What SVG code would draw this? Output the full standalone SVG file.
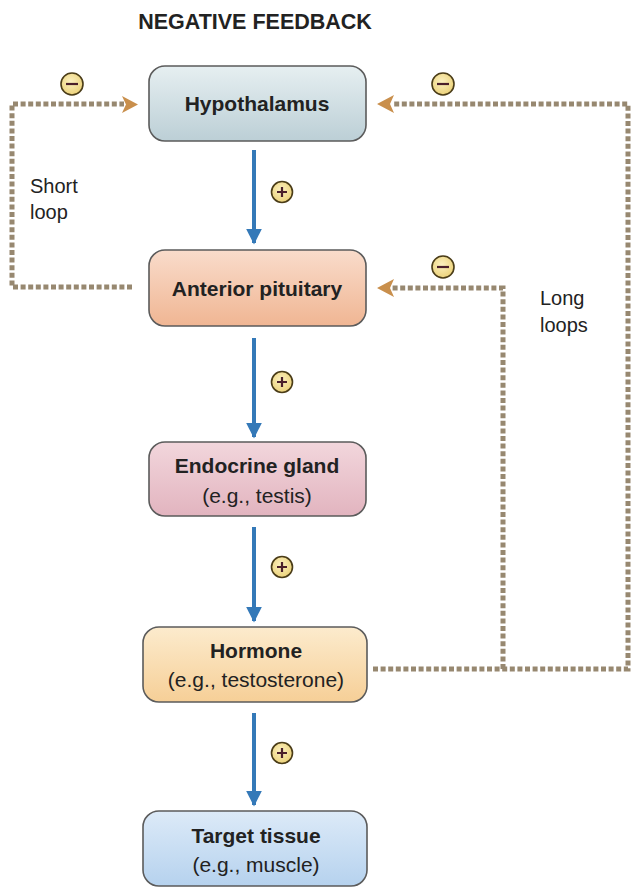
<svg xmlns="http://www.w3.org/2000/svg" width="634" height="892" viewBox="0 0 634 892">
<defs>
<linearGradient id="gHyp" x1="0" y1="0" x2="0" y2="1"><stop offset="0" stop-color="#e6eff1"/><stop offset="1" stop-color="#bccfd6"/></linearGradient>
<linearGradient id="gAnt" x1="0" y1="0" x2="0" y2="1"><stop offset="0" stop-color="#f9dccb"/><stop offset="1" stop-color="#f0b693"/></linearGradient>
<linearGradient id="gEnd" x1="0" y1="0" x2="0" y2="1"><stop offset="0" stop-color="#f2d6dc"/><stop offset="1" stop-color="#e2b4bf"/></linearGradient>
<linearGradient id="gHor" x1="0" y1="0" x2="0" y2="1"><stop offset="0" stop-color="#fcebcd"/><stop offset="1" stop-color="#f6cf97"/></linearGradient>
<linearGradient id="gTar" x1="0" y1="0" x2="0" y2="1"><stop offset="0" stop-color="#dceaf8"/><stop offset="1" stop-color="#b6d2ee"/></linearGradient>
<radialGradient id="gSign" cx="0.45" cy="0.4" r="0.6"><stop offset="0" stop-color="#fbf0c0"/><stop offset="1" stop-color="#ecd27a"/></radialGradient>
<marker id="blueHead" viewBox="0 0 10 10" refX="9" refY="5" markerWidth="4" markerHeight="4" orient="auto" markerUnits="strokeWidth"><path d="M0,0 L10,5 L0,10 z" fill="#3479b8"/></marker>
</defs>
<style>
.box{stroke:#5b5b5b;stroke-width:1.6}
.bold{font-family:"Liberation Sans",Arial,sans-serif;font-weight:bold;font-size:21px;fill:#222;text-anchor:middle}
.reg{font-family:"Liberation Sans",Arial,sans-serif;font-size:21px;fill:#222;text-anchor:middle}
.lbl{font-family:"Liberation Sans",Arial,sans-serif;font-size:20px;fill:#222}
.blue{stroke:#3479b8;stroke-width:4;fill:none;marker-end:url(#blueHead)}
.dot{stroke:#978870;stroke-width:5;fill:none;stroke-dasharray:5 2.6}
.sign{fill:url(#gSign);stroke:#4a3c18;stroke-width:1.6}
.mark{stroke:#4a1f2a;stroke-width:2.2;fill:none}
.head{fill:#c98f4c}
</style>
<text x="255" y="29" font-family="'Liberation Sans',Arial,sans-serif" font-weight="bold" font-size="21.5" fill="#222" text-anchor="middle">NEGATIVE FEEDBACK</text>

<g id="connectors">
<line class="blue" x1="254" y1="150" x2="254" y2="243"/>
<line class="blue" x1="254" y1="338" x2="254" y2="437"/>
<line class="blue" x1="254" y1="527" x2="254" y2="621"/>
<line class="blue" x1="254" y1="713" x2="254" y2="805"/>
<polyline class="dot" points="132,287 12,287 12,104 124,104"/>
<polyline class="dot" points="373,669 628,669 628,104 392,104"/>
<polyline class="dot" points="503,669 503,288 392,288"/>
<path class="head" d="M122,96 L138,104.5 L122,113 L126,104.5 z"/>
<path class="head" d="M394,95 L377,104 L394,113 L390,104 z"/>
<path class="head" d="M394,279 L377,288 L394,297 L390,288 z"/>
</g>

<g id="signs">
<g id="minus1"><circle class="sign" cx="72" cy="84" r="11"/><line class="mark" x1="66" y1="84" x2="78" y2="84"/></g>
<g id="minus2"><circle class="sign" cx="443" cy="84" r="11"/><line class="mark" x1="437" y1="84" x2="449" y2="84"/></g>
<g id="minus3"><circle class="sign" cx="443" cy="267" r="11"/><line class="mark" x1="437" y1="267" x2="449" y2="267"/></g>
<g id="plus1"><circle class="sign" cx="282" cy="192" r="10.5"/><path class="mark" d="M277,192 H287 M282,187 V197"/></g>
<g id="plus2"><circle class="sign" cx="282" cy="382" r="10.5"/><path class="mark" d="M277,382 H287 M282,377 V387"/></g>
<g id="plus3"><circle class="sign" cx="282" cy="567" r="10.5"/><path class="mark" d="M277,567 H287 M282,562 V572"/></g>
<g id="plus4"><circle class="sign" cx="282" cy="753" r="10.5"/><path class="mark" d="M277,753 H287 M282,748 V758"/></g>
</g>

<g id="labels">
<text class="lbl" x="30" y="193">Short</text>
<text class="lbl" x="30" y="219">loop</text>
<text class="lbl" x="540" y="305">Long</text>
<text class="lbl" x="540" y="332">loops</text>
</g>

<g id="hypothalamus">
<rect class="box" x="149" y="66" width="217" height="75" rx="16" fill="url(#gHyp)"/>
<text class="bold" x="257" y="111">Hypothalamus</text>
</g>
<g id="anterior-pituitary">
<rect class="box" x="149" y="250" width="217" height="76" rx="16" fill="url(#gAnt)"/>
<text class="bold" x="257" y="296">Anterior pituitary</text>
</g>
<g id="endocrine-gland">
<rect class="box" x="149" y="442" width="217" height="74" rx="16" fill="url(#gEnd)"/>
<text class="bold" x="257" y="473">Endocrine gland</text>
<text class="reg" x="257" y="503">(e.g., testis)</text>
</g>
<g id="hormone">
<rect class="box" x="143" y="627" width="224" height="75" rx="16" fill="url(#gHor)"/>
<text class="bold" x="256" y="658">Hormone</text>
<text class="reg" x="256" y="687">(e.g., testosterone)</text>
</g>
<g id="target-tissue">
<rect class="box" x="143" y="811" width="224" height="75" rx="16" fill="url(#gTar)"/>
<text class="bold" x="256" y="843">Target tissue</text>
<text class="reg" x="256" y="872">(e.g., muscle)</text>
</g>
</svg>
